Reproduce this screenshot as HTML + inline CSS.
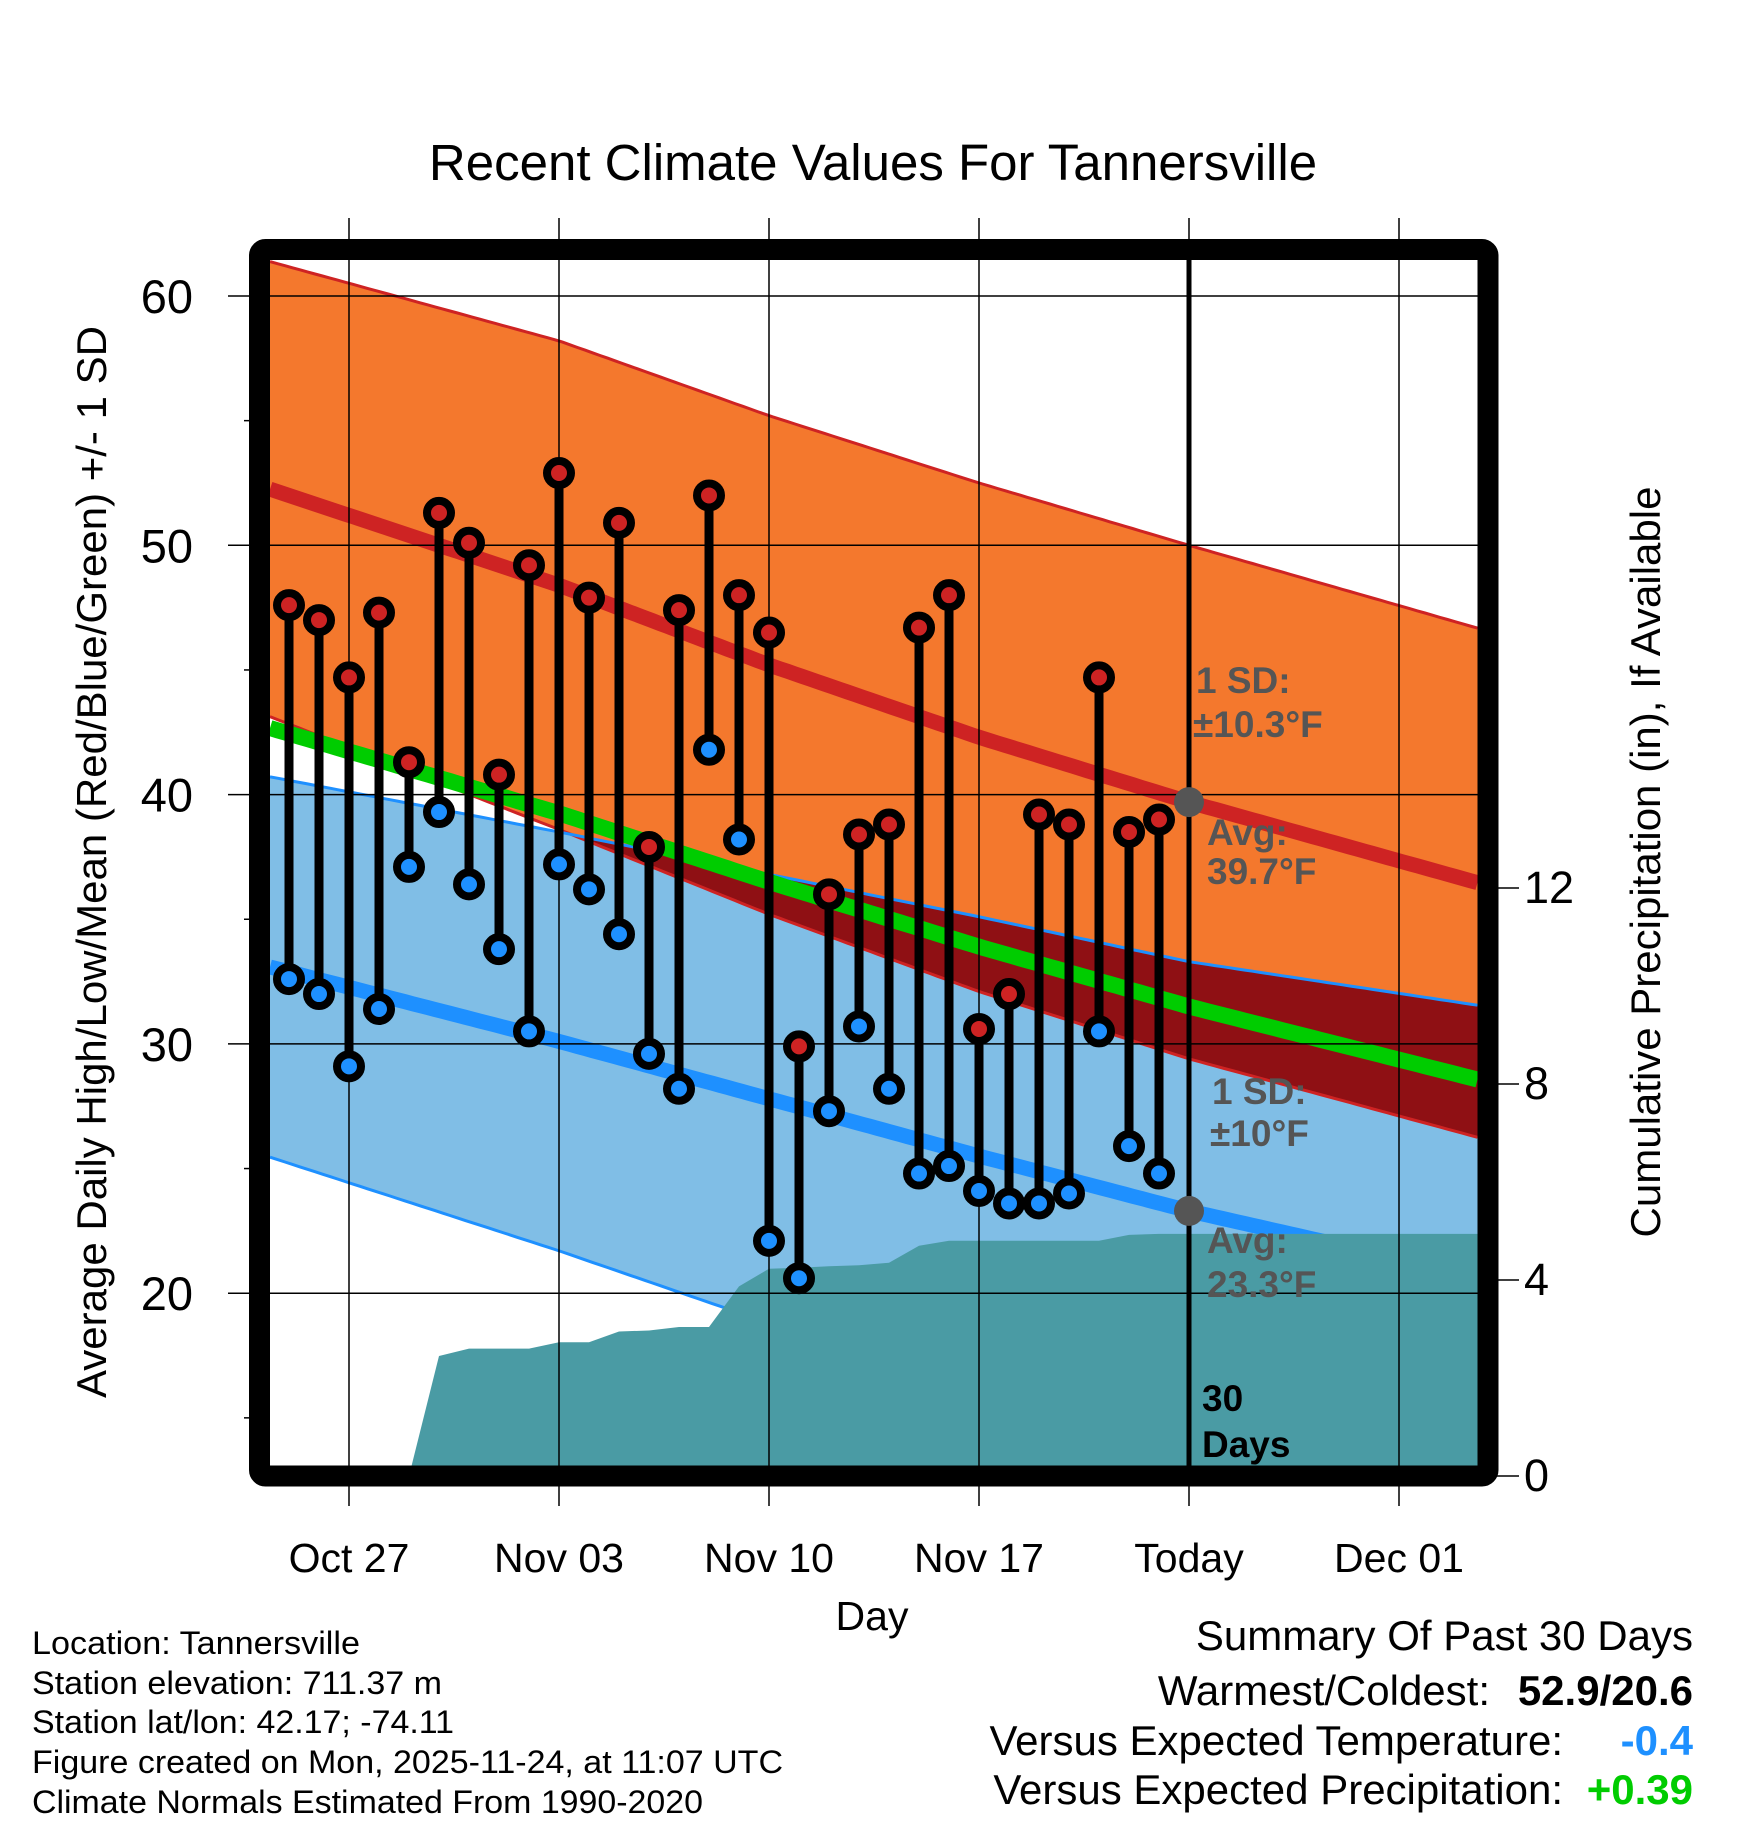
<!DOCTYPE html>
<html><head><meta charset="utf-8"><style>
html,body{margin:0;padding:0;background:#fff}
svg{display:block;font-family:"Liberation Sans",Arial,sans-serif}
</style></head><body>
<svg id="chart" width="1748" height="1828" viewBox="0 0 1748 1828"></svg>
<script>
// ---- data ----
const dayLabels = ["Oct 27","Nov 03","Nov 10","Nov 17","Today","Dec 01"];
const dayLabelDays = [0,7,14,21,28,35];
const obsDays = [-2,-1,0,1,2,3,4,5,6,7,8,9,10,11,12,13,14,15,16,17,18,19,20,21,22,23,24,25,26,27];
const highs = [47.6,47.0,44.7,47.3,41.3,51.3,50.1,40.8,49.2,52.9,47.9,50.9,37.9,47.4,52.0,48.0,46.5,29.9,36.0,38.4,38.8,46.7,48.0,30.6,32.0,39.2,38.8,44.7,38.5,39.0];
const lows = [32.6,32.0,29.1,31.4,37.1,39.3,36.4,33.8,30.5,37.2,36.2,34.4,29.6,28.2,41.8,38.2,22.1,20.6,27.3,30.7,28.2,24.8,25.1,24.1,23.6,23.6,24.0,30.5,25.9,24.8];
const precip = [0,0,0,0,0,2.45,2.6,2.6,2.6,2.73,2.73,2.95,2.97,3.04,3.04,3.87,4.23,4.25,4.28,4.3,4.35,4.7,4.8,4.8,4.8,4.8,4.8,4.8,4.92,4.94];
const normDays = [-3,7,14,21,28,39];
const normHigh = [52.4,48.4,45.2,42.3,39.7,36.0];
const normHighSd = [9.1,9.8,10.0,10.2,10.3,10.2];
const normLow = [33.2,30.1,27.8,25.5,23.3,20.3];
const normLowSd = [7.6,8.4,9.0,9.6,10.0,11.0];
const yTicks = [20,30,40,50,60];
const pTicks = [0,4,8,12];

// ---- axes ----
const PL=270,PR=1478,PT=260,PB=1466;
const X=d=>349+d*30;
const Y=v=>296+(60-v)*24.93;
const P=p=>1476-p*49.0;
const D0=(PL-349)/30, D1=(PR-349)/30;
function interp(arr,d){
  for(let i=0;i<normDays.length-1;i++){
    if(d<=normDays[i+1]||i===normDays.length-2){
      const t=(d-normDays[i])/(normDays[i+1]-normDays[i]);return arr[i]+t*(arr[i+1]-arr[i]);}
  }
}
const NS="http://www.w3.org/2000/svg";
const svg=document.getElementById('chart');
function el(tag,attrs,parent){const e=document.createElementNS(NS,tag);for(const k in attrs)e.setAttribute(k,attrs[k]);(parent||svg).appendChild(e);return e;}
function txt(s,attrs,parent){const e=el('text',attrs,parent);e.textContent=s;return e;}

const defs=el('defs',{});
const cp=el('clipPath',{id:'plotclip'},defs);el('rect',{x:PL,y:PT,width:PR-PL,height:PB-PT},cp);

const samples=[];for(let d=D0;d<=D1+0.001;d+=0.25)samples.push(d);
function pathLine(f){return samples.map((d,i)=>(i?'L':'M')+X(d).toFixed(1)+' '+Y(f(d)).toFixed(1)).join(' ');}
function band(fu,fl){const up=samples.map(d=>X(d).toFixed(1)+','+Y(fu(d)).toFixed(1));const lo=samples.slice().reverse().map(d=>X(d).toFixed(1)+','+Y(fl(d)).toFixed(1));return up.concat(lo).join(' ');}

const g=el('g',{'clip-path':'url(#plotclip)'});


const hiU=d=>interp(normHigh,d)+interp(normHighSd,d), hiL=d=>interp(normHigh,d)-interp(normHighSd,d);
const loU=d=>interp(normLow,d)+interp(normLowSd,d), loL=d=>interp(normLow,d)-interp(normLowSd,d);
const ob=el('polygon',{points:band(hiU,hiL),fill:'#F4782D'},g);


const bb=el('polygon',{points:band(loU,loL),fill:'#80BEE6'},g);


const cp2=el('clipPath',{id:'hiclip'},defs);el('polygon',{points:band(hiU,hiL)},cp2);
const ov=el('polygon',{points:band(loU,loL),fill:'#8F1014','clip-path':'url(#hiclip)'},g);


[[hiU,'#CE2323'],[hiL,'#CE2323'],[loU,'#1E90FF'],[loL,'#1E90FF']].forEach(([f,c])=>{
  const l=el('path',{d:pathLine(f),fill:'none',stroke:c,'stroke-width':3},g);
  
  
});
const ah=el('path',{d:pathLine(d=>interp(normHigh,d)),fill:'none',stroke:'#CE2323','stroke-width':15},g);


const al=el('path',{d:pathLine(d=>interp(normLow,d)),fill:'none',stroke:'#1E90FF','stroke-width':15},g);


const am=el('path',{d:pathLine(d=>(interp(normHigh,d)+interp(normLow,d))/2),fill:'none',stroke:'#00CC00','stroke-width':16},g);



// precip area
let pp=[X(D0)+','+P(0), X(D0)+','+P(precip[0])];
obsDays.forEach((d,i)=>pp.push(X(d)+','+P(precip[i]).toFixed(1)));
pp.push(X(D1)+','+P(precip[precip.length-1]).toFixed(1));pp.push(X(D1)+','+P(0));
const pa=el('polygon',{points:pp.join(' '),fill:'#4A9BA4'},g);



// grid
yTicks.forEach(v=>{
  const l=el('line',{x1:228,x2:PR,y1:Y(v),y2:Y(v),stroke:'#000','stroke-width':1.5});
  
  
  const t=txt(String(v),{x:193,y:Y(v)+17,'font-size':47,'text-anchor':'end',fill:'#000'});
  
  
});
[15,25,35,45,55].forEach(v=>{el('line',{x1:244,x2:259,y1:Y(v),y2:Y(v),stroke:'#000','stroke-width':1.5});});
dayLabelDays.forEach((d,i)=>{
  const l=el('line',{x1:X(d),x2:X(d),y1:218,y2:1506,stroke:'#000','stroke-width':1.5});
  
  
  const t=txt(dayLabels[i],{x:X(d),y:1572,'font-size':41,'text-anchor':'middle',fill:'#000'});
  
  
});
pTicks.forEach(p=>{
  el('line',{x1:PR,x2:1519,y1:P(p),y2:P(p),stroke:'#000','stroke-width':1.5});
  const t=txt(String(p),{x:1524,y:P(p)+15,'font-size':45,fill:'#000'});
  
  
});
// today line
const tl=el('line',{x1:X(28),x2:X(28),y1:PT,y2:PB,stroke:'#000','stroke-width':5});



// stems and markers
obsDays.forEach((d,i)=>{
  const s=el('line',{x1:X(d),x2:X(d),y1:Y(highs[i]),y2:Y(lows[i]),stroke:'#000','stroke-width':9});
  
  
});
obsDays.forEach((d,i)=>{
  const h=el('circle',{cx:X(d),cy:Y(highs[i]),r:12,fill:'#CE2323',stroke:'#000','stroke-width':8});
  
  
  const l=el('circle',{cx:X(d),cy:Y(lows[i]),r:12,fill:'#1E90FF',stroke:'#000','stroke-width':8});
  
  
});
const d1=el('circle',{cx:X(28),cy:Y(interp(normHigh,28)),r:15,fill:'#555'});


const d2=el('circle',{cx:X(28),cy:Y(interp(normLow,28)),r:15,fill:'#555'});



// frame
const fr=el('rect',{x:259.5,y:249.5,width:1228.5,height:1226.5,fill:'none',stroke:'#000','stroke-width':21,rx:6});



// annotations
const ann=[["1 SD:",1196,693],["±10.3°F",1193,737],["Avg:",1207,845],["39.7°F",1207,884],["1 SD:",1212,1104],["±10°F",1210,1146],["Avg:",1207,1253],["23.3°F",1207,1297]];
ann.forEach(a=>{const t=txt(a[0],{x:a[1],y:a[2],'font-size':37,'font-weight':'bold',fill:'#555'});
  
  });
const a1=txt("30",{x:1202,y:1411,'font-size':37,'font-weight':'bold',fill:'#000'});


const a2=txt("Days",{x:1202,y:1457,'font-size':37,'font-weight':'bold',fill:'#000'});


</script>
<svg width="1748" height="1828" style="position:absolute;left:0;top:0;font-family:'Liberation Sans',Arial,sans-serif">
<text x="873" y="180" font-size="51" text-anchor="middle">Recent Climate Values For Tannersville</text>
<text x="872" y="1630" font-size="41" text-anchor="middle">Day</text>
<text transform="translate(106,862) rotate(-90)" font-size="42" text-anchor="middle">Average Daily High/Low/Mean (Red/Blue/Green) +/- 1 SD</text>
<text transform="translate(1660,862) rotate(-90)" font-size="42" text-anchor="middle">Cumulative Precipitation (in), If Available</text>
<g font-size="32" fill="#000">
<text x="32" y="1654" textLength="328" lengthAdjust="spacingAndGlyphs">Location: Tannersville</text>
<text x="32" y="1694" textLength="410" lengthAdjust="spacingAndGlyphs">Station elevation: 711.37 m</text>
<text x="32" y="1733" textLength="422" lengthAdjust="spacingAndGlyphs">Station lat/lon: 42.17; -74.11</text>
<text x="32" y="1773" textLength="751" lengthAdjust="spacingAndGlyphs">Figure created on Mon, 2025-11-24, at 11:07 UTC</text>
<text x="32" y="1813" textLength="671" lengthAdjust="spacingAndGlyphs">Climate Normals Estimated From 1990-2020</text>
</g>
<g font-size="42">
<text x="1693" y="1650" text-anchor="end">Summary Of Past 30 Days</text>
<text x="1490" y="1705" text-anchor="end">Warmest/Coldest:</text>
<text x="1693" y="1705" text-anchor="end" font-weight="bold">52.9/20.6</text>
<text x="1563" y="1755" text-anchor="end">Versus Expected Temperature:</text>
<text x="1693" y="1755" text-anchor="end" font-weight="bold" fill="#1E90FF">-0.4</text>
<text x="1563" y="1804" text-anchor="end">Versus Expected Precipitation:</text>
<text x="1693" y="1804" text-anchor="end" font-weight="bold" fill="#00CC00">+0.39</text>
</g>
</svg>
</body></html>
